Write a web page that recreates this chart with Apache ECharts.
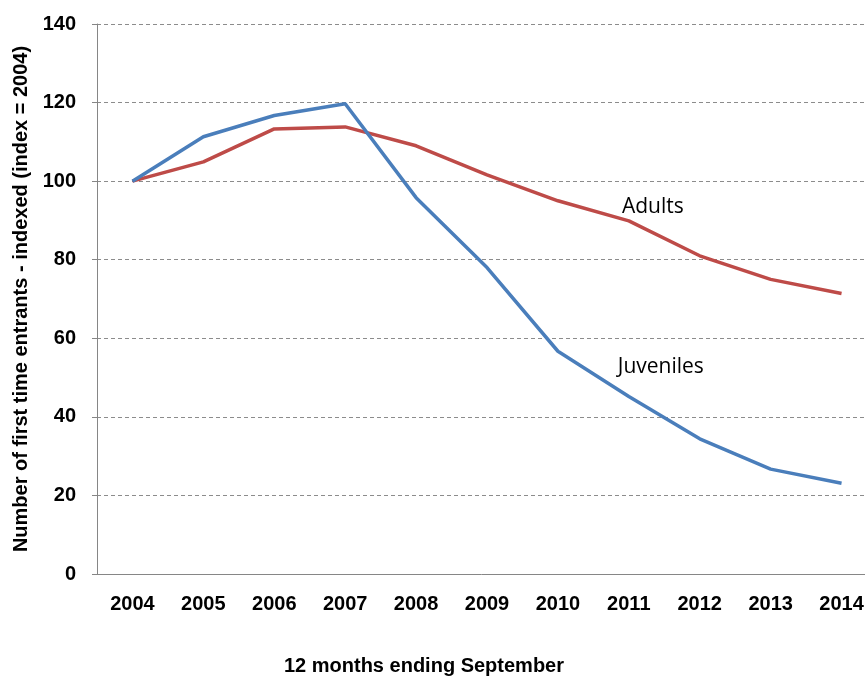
<!DOCTYPE html>
<html>
<head>
<meta charset="utf-8">
<script src="https://cdn.jsdelivr.net/npm/echarts@6/dist/echarts.min.js"></script>
<style>
  html, body { margin: 0; padding: 0; background: #fff; }
  #chart { width: 865px; height: 677px; }
</style>
</head>
<body>
<div id="chart"></div>
<script>
var myChart = echarts.init(document.getElementById('chart'));

// values (index = 2004)
const years = ['2004', '2005', '2006', '2007', '2008', '2009', '2010', '2011', '2012', '2013', '2014'];
const juveniles = [100, 111.3, 116.7, 119.7, 95.8, 78, 56.7, 45.2, 34.4, 26.7, 23.1];
const adults = [100, 104.9, 113.3, 113.8, 109, 101.6, 95, 89.9, 81, 75, 71.4];

const labelFont = 'Liberation Sans';

var option = {
    animation: false,
    title: {
        text: '12 months ending September',
        left: 419,
        top: 651,
        textAlign: 'center',
        textStyle: {fontFamily: labelFont, fontWeight: 'bold', fontSize: 20, color: '#000'}
    },
    grid: {
        left: 97,
        top: 24,
        right: -12,
        bottom: 103,
        containLabel: false,
        outerBoundsMode: 'none'
    },
    xAxis: {
        type: 'category',
        data: years,
        boundaryGap: true,
        axisLine: {lineStyle: {color: '#868686', width: 1}},
        axisTick: {show: false},
        axisLabel: {
            margin: 20,
            fontFamily: labelFont,
            fontWeight: 'bold',
            fontSize: 20,
            color: '#000'
        }
    },
    yAxis: {
        type: 'value',
        min: 0,
        max: 140,
        interval: 20,
        name: 'Number of first time entrants - indexed (index = 2004)',
        nameLocation: 'middle',
        nameGap: 66,
        nameTextStyle: {fontFamily: labelFont, fontWeight: 'bold', fontSize: 20, color: '#000'},
        axisLine: {show: true, lineStyle: {color: '#868686'}},
        axisTick: {show: true, length: 5, lineStyle: {color: '#868686'}},
        axisLabel: {
            margin: 21,
            fontFamily: labelFont,
            fontWeight: 'bold',
            fontSize: 20,
            color: '#000'
        },
        splitLine: {lineStyle: {color: '#8c8c8c', type: [4, 3], width: 1}}
    },
    series: [
        {
            name: 'Adults',
            type: 'line',
            data: adults,
            symbol: 'none',
            lineStyle: {color: '#be4b48', width: 3.5},
            markPoint: {
                symbol: 'circle',
                symbolSize: 1,
                itemStyle: {color: 'transparent'},
                data: [{coord: ['2011', 93.5], value: 'Adults'}],
                label: {
                    show: true,
                    position: 'inside',
                    formatter: 'Adults',
                    offset: [24, 0],
                    fontFamily: 'Open Sans',
                    fontSize: 21,
                    color: '#000'
                }
            }
        },
        {
            name: 'Juveniles',
            type: 'line',
            data: juveniles,
            symbol: 'none',
            lineStyle: {color: '#4a7ebb', width: 3.5},
            markPoint: {
                symbol: 'circle',
                symbolSize: 1,
                itemStyle: {color: 'transparent'},
                data: [{coord: ['2011', 52.8], value: 'Juveniles'}],
                label: {
                    show: true,
                    position: 'inside',
                    formatter: 'Juveniles',
                    offset: [32, 0],
                    fontFamily: 'Open Sans',
                    fontSize: 21,
                    color: '#000'
                }
            }
        }
    ]
};

myChart.setOption(option);
</script>
</body>
</html>
